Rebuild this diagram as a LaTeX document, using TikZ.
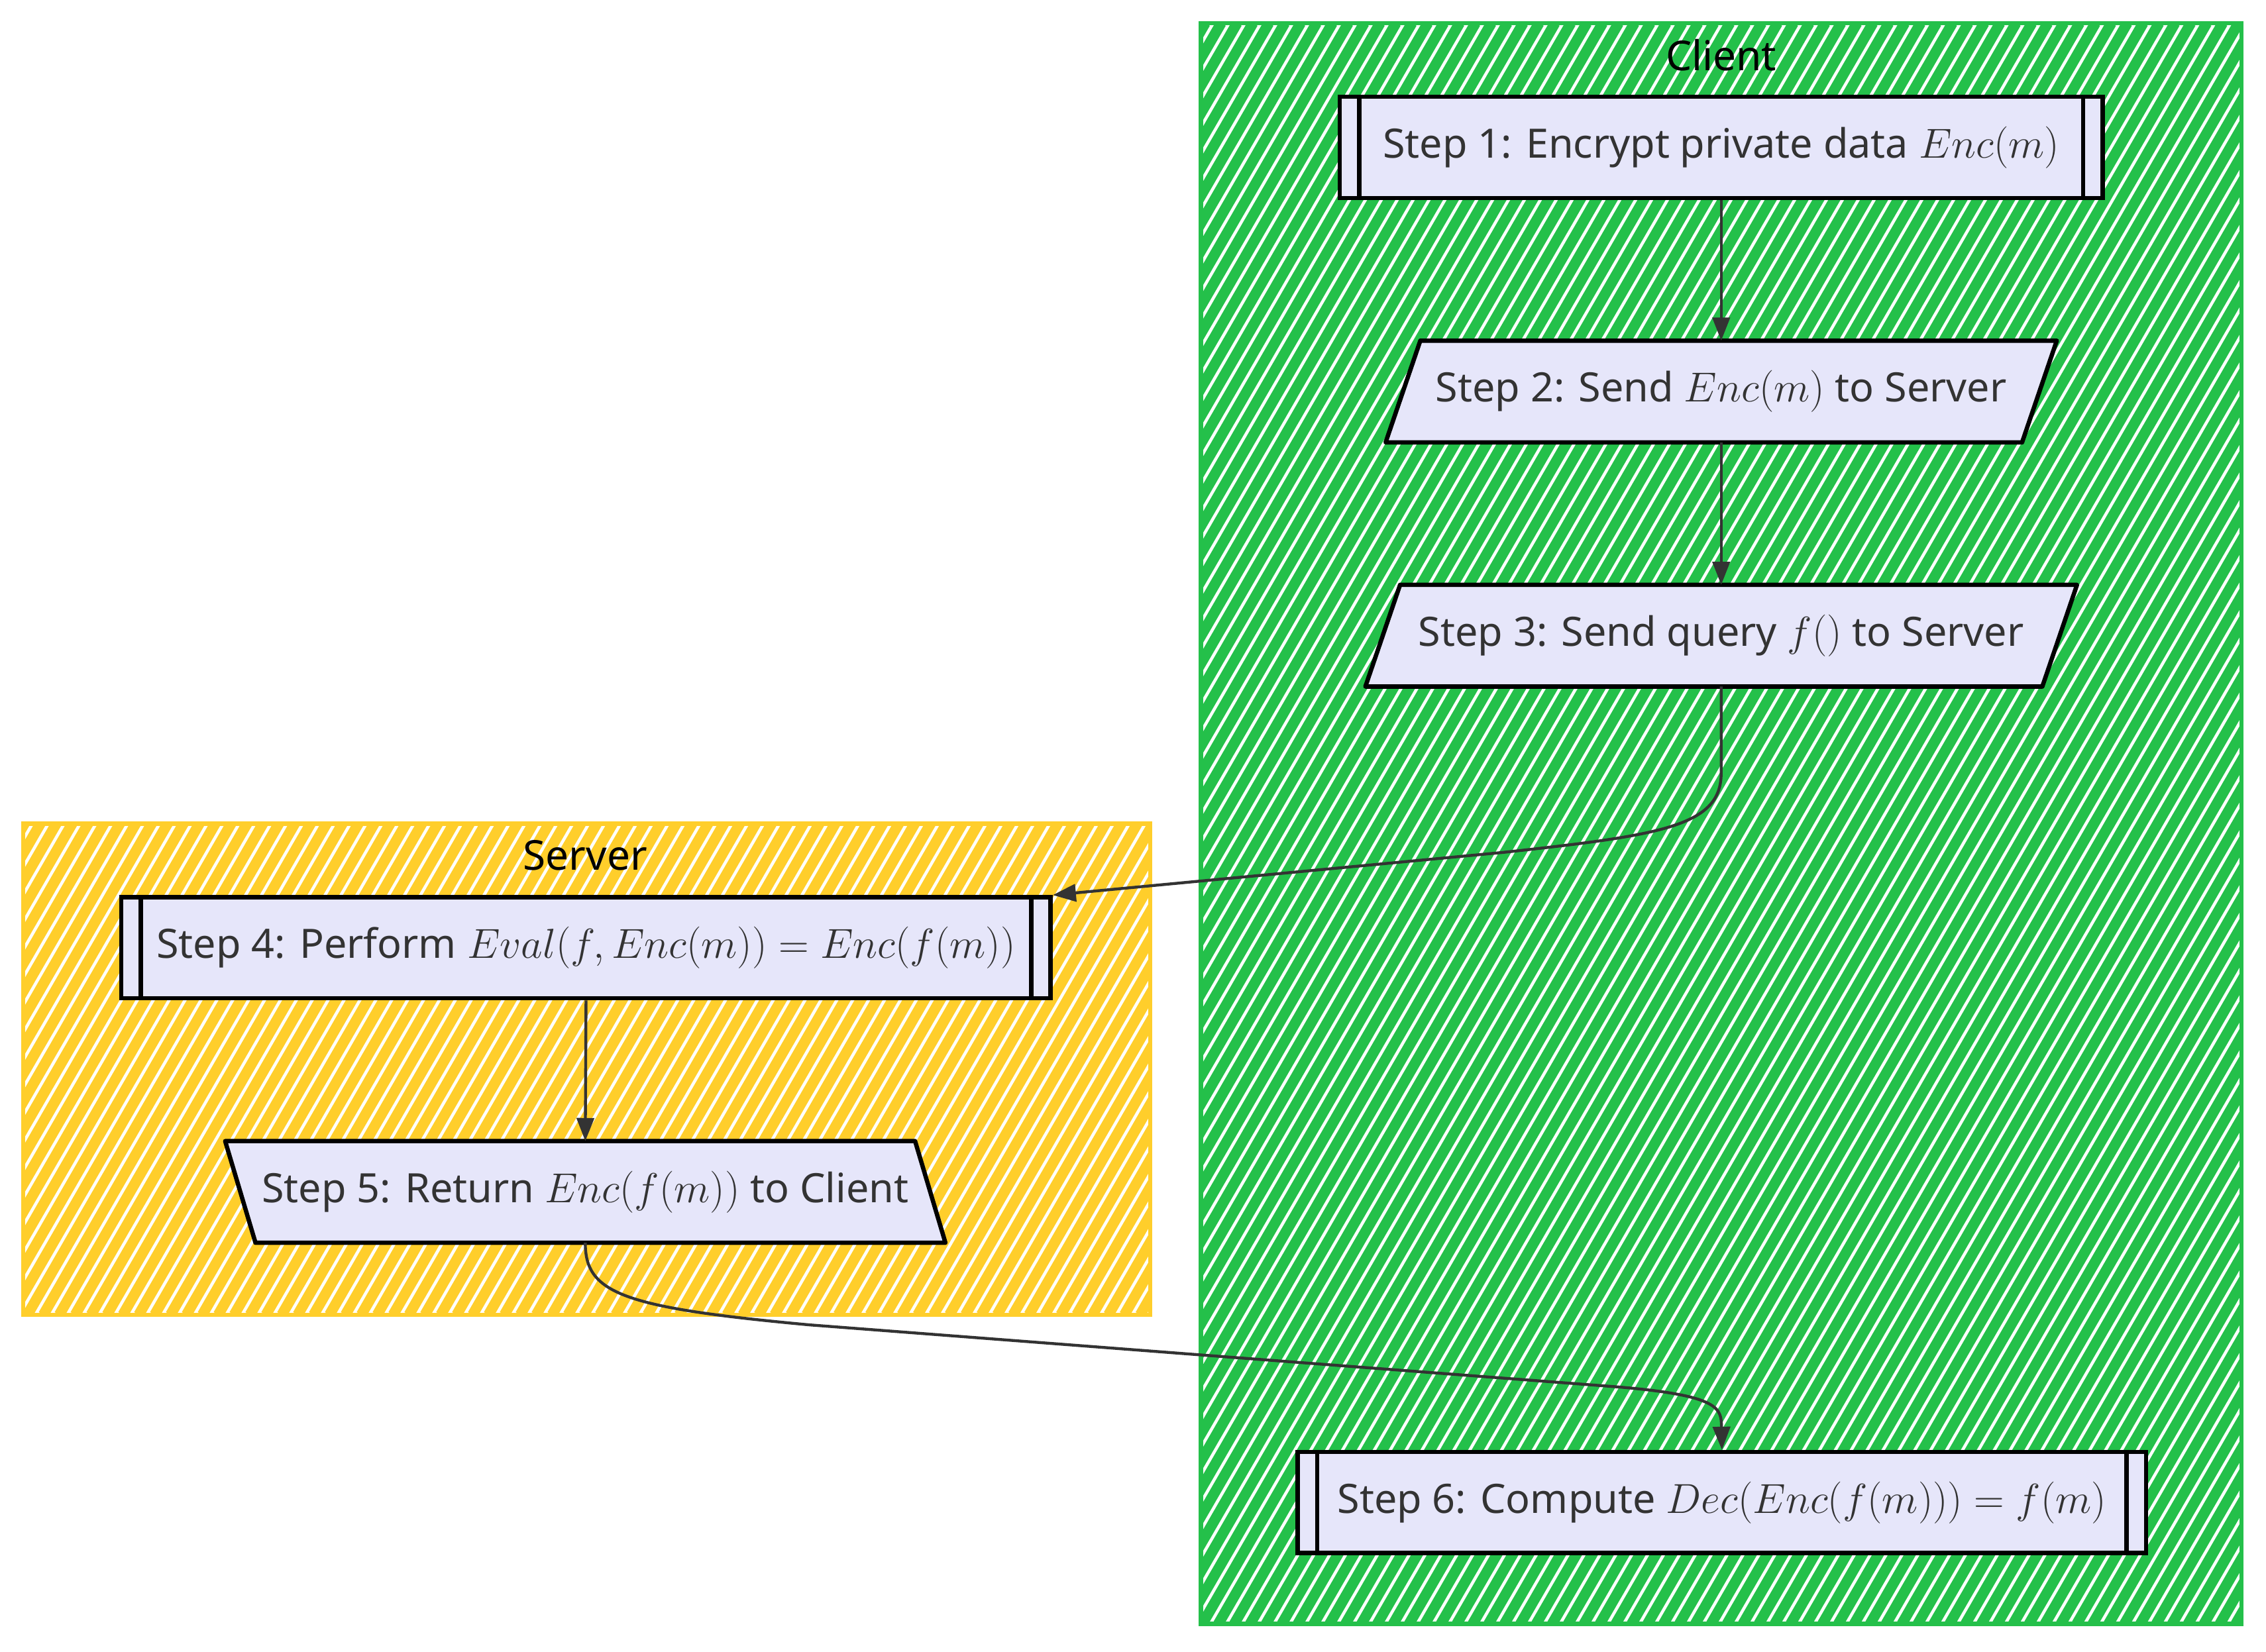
\RequirePackage{fix-cm}
\documentclass[tikz,border=0pt]{standalone}
\usepackage[no-math]{fontspec}
\setmainfont{Noto Sans}
\usetikzlibrary{arrows.meta}
\pgfdeclarelayer{clusters}
\pgfdeclarelayer{shapes}
\pgfsetlayers{clusters,shapes,main}
\definecolor{cgreen}{RGB}{36,192,74}
\definecolor{cyellow}{RGB}{255,206,43}
\definecolor{nodefill}{RGB}{230,230,250}
\definecolor{ink}{RGB}{51,51,51}
\newcommand{\mth}[1]{{\fontsize{29}{32}\selectfont$#1$}}
\tikzset{
  txt/.style={font=\fontsize{28}{32}\selectfont, text=ink, inner sep=0},
  subbox/.style={txt, draw=black, line width=3, fill=nodefill, minimum height=70},
  ioshape/.style={txt, minimum height=70},
  ioborder/.style={draw=black, line width=3, fill=nodefill, line join=round},
  conn/.style={draw=ink, line width=2, -{Triangle[length=16,width=12]}},
  ctitle/.style={font=\fontsize{28.5}{32}\selectfont, text=black},
}
\begin{document}
\begin{tikzpicture}[x=1pt,y=-1pt]
\useasboundingbox (0,0) rectangle (1568,1143);
\begin{pgfonlayer}{clusters}
  \begin{scope}
    \clip (831,16) rectangle (1551,1124);
    \foreach \k in {150,161,...,1560} \draw[cgreen, line width=7.3] (\k,1124) -- ++(640,-1108);
  \end{scope}
  \draw[cgreen, line width=3] (831,16) rectangle (1551,1124);
  \begin{scope}
    \clip (16,570) rectangle (796,910);
    \foreach \k in {-190,-179,...,800} \draw[cyellow, line width=7.3] (\k,910) -- ++(196,-340);
  \end{scope}
  \draw[cyellow, line width=3] (16,570) rectangle (796,910);
\end{pgfonlayer}

\node[ctitle] (client) at (1191,38) {Client};
\node[ctitle] (server) at (405,592) {Server};

\node[subbox, minimum width=528] (s1) at (1191,102) {Step 1: Encrypt private data \mth{Enc(m)}};
\node[ioshape, minimum width=440] (s2) at (1191,271) {Step 2: Send \mth{Enc(m)} to Server};
\node[ioshape, minimum width=468] (s3) at (1191,440) {Step 3: Send query \mth{f()} to Server};
\node[subbox, minimum width=643] (s4) at (405.5,656) {Step 4: Perform \mth{Eval(f,Enc(m))=Enc(f(m))}};
\node[ioshape, minimum width=477] (s5) at (405,825) {Step 5: Return \mth{Enc(f(m))} to Client};
\node[subbox, minimum width=587] (s6) at (1191.5,1040) {Step 6: Compute \mth{Dec(Enc(f(m)))=f(m)}};

\foreach \n in {s1,s4,s6}
  \draw[line width=3] ([xshift=15]\n.north west) -- ([xshift=15]\n.south west)
                      ([xshift=-15]\n.north east) -- ([xshift=-15]\n.south east);

\begin{pgfonlayer}{shapes}
  \draw[ioborder] ([xshift=12]s2.north west) -- ([xshift=12]s2.north east) -- ([xshift=-12]s2.south east) -- ([xshift=-12]s2.south west) -- cycle;
  \draw[ioborder] ([xshift=12]s3.north west) -- ([xshift=12]s3.north east) -- ([xshift=-12]s3.south east) -- ([xshift=-12]s3.south west) -- cycle;
  \draw[ioborder] ([xshift=-10.5]s5.north west) -- ([xshift=-10.5]s5.north east) -- ([xshift=10.5]s5.south east) -- ([xshift=10.5]s5.south west) -- cycle;
\end{pgfonlayer}

\draw[conn] (s1.south) -- (s2.north);
\draw[conn] (s2.south) -- (s3.north);
\draw[conn] (s3.south) -- (1191,535) .. controls (1191,572) and (1150,578) .. (1040,590) -- (s4.north east);
\draw[conn] (s4.south) -- (s5.north);
\draw[conn] (s5.south) .. controls (405,895) and (430,905) .. (560,917) -- (1120,960) .. controls (1191,966) and (1191,975) .. (s6.north);
\end{tikzpicture}
\end{document}
